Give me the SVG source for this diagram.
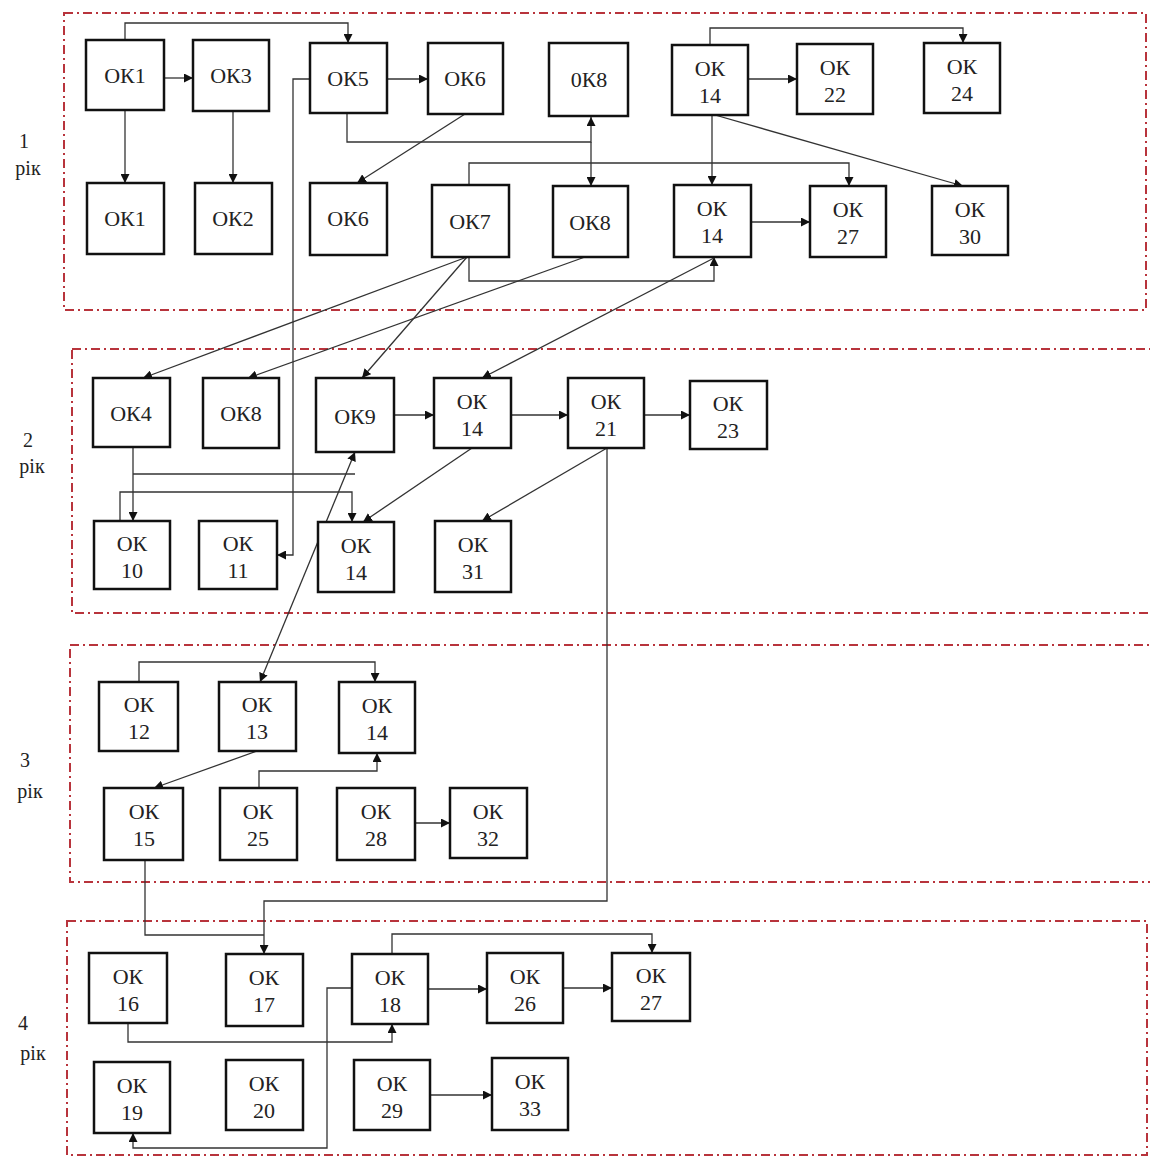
<svg xmlns="http://www.w3.org/2000/svg" width="1150" height="1157" viewBox="0 0 1150 1157">
<style>
.panel{fill:none;stroke:#b8343c;stroke-width:2;stroke-dasharray:9 4 2 4}
.box{fill:#fff;stroke:#111;stroke-width:2.5}
.t{font-family:"Liberation Serif","Times New Roman",serif;font-size:22px;fill:#222;text-anchor:middle}
.lbl{font-family:"Liberation Serif","Times New Roman",serif;font-size:20px;fill:#222;text-anchor:middle}
.c{fill:none;stroke:#333;stroke-width:1.3;marker-end:url(#ah)}
.n{fill:none;stroke:#333;stroke-width:1.3}
.d{marker-start:url(#ah)}
</style>
<defs>
<marker id="ah" viewBox="0 0 10 10" refX="10" refY="5" markerWidth="9" markerHeight="9" markerUnits="userSpaceOnUse" orient="auto-start-reverse"><path d="M0,0 L10,5 L0,10 z" fill="#111"/></marker>
</defs>
<rect width="1150" height="1157" fill="#fff"/>
<g id="panels">
<rect class="panel" x="64" y="13" width="1082" height="297"/>
<rect class="panel" x="72" y="349" width="1090" height="264"/>
<rect class="panel" x="70" y="645" width="1090" height="237"/>
<rect class="panel" x="67" y="921" width="1080" height="234"/>
</g>
<g id="labels">
<text class="lbl" x="24" y="148">1</text><text class="lbl" x="28" y="175">рік</text>
<text class="lbl" x="28" y="447">2</text><text class="lbl" x="32" y="473">рік</text>
<text class="lbl" x="25" y="767">3</text><text class="lbl" x="30" y="798">рік</text>
<text class="lbl" x="23" y="1030">4</text><text class="lbl" x="33" y="1060">рік</text>
</g>
<g id="connectors">
<path class="c" d="M125,40 V23 H348 V43"/>
<path class="c" d="M164,78 H193"/>
<path class="c" d="M125,110 V183"/>
<path class="c" d="M233,111 V183"/>
<path class="c" d="M387,79 H428"/>
<path class="c" d="M310,79 H293 V555 H277"/>
<path class="c" d="M347,113 V142 H591 V117"/>
<path class="c" d="M591,142 V186"/>
<path class="c" d="M465,114 L357,183"/>
<path class="c" d="M469,185 V163 H849 V186"/>
<path class="c" d="M469,257 V281 H714 V257"/>
<path class="c" d="M748,79 H797"/>
<path class="c" d="M710,45 V28 H963 V43"/>
<path class="c" d="M712,115 V185"/>
<path class="c" d="M715,115 L963,186"/>
<path class="c" d="M751,222 H810"/>
<path class="c" d="M467,257 L143,378"/>
<path class="c" d="M467,257 L362,378"/>
<path class="c" d="M585,257 L248,378"/>
<path class="c" d="M714,258 L482,378"/>
<path class="c" d="M394,415 H434"/>
<path class="c" d="M511,415 H568"/>
<path class="c" d="M644,415 H690"/>
<path class="c" d="M607,448 L482,521"/>
<path class="c" d="M607,448 V901 H264 V954"/>
<path class="c" d="M472,448 L363,522"/>
<path class="c" d="M133,447 V521"/>
<path class="n" d="M133,474 H355"/>
<path class="c" d="M120,521 V492 H352 V522"/>
<path class="c d" d="M260,682 L355,452"/>
<path class="c" d="M139,682 V662 H375 V682"/>
<path class="c" d="M257,751 L154,788"/>
<path class="c" d="M259,788 V771 H377 V753"/>
<path class="c" d="M415,823 H450"/>
<path class="n" d="M145,860 V935 H264"/>
<path class="c" d="M392,954 V934 H652 V953"/>
<path class="c" d="M428,989 H487"/>
<path class="c" d="M563,988 H612"/>
<path class="c" d="M128,1023 V1042 H392 V1024"/>
<path class="c" d="M352,988 H327 V1148 H133 V1133"/>
<path class="c" d="M430,1095 H492"/>
</g>
<g id="n-ok1a"><rect class="box" x="86" y="40" width="78" height="70"/><text class="t" x="125" y="83">ОК1</text></g>
<g id="n-ok3"><rect class="box" x="193" y="40" width="76" height="71"/><text class="t" x="231" y="83">ОК3</text></g>
<g id="n-ok5"><rect class="box" x="310" y="43" width="77" height="70"/><text class="t" x="348" y="86">ОК5</text></g>
<g id="n-ok6a"><rect class="box" x="428" y="43" width="75" height="71"/><text class="t" x="465" y="86">ОК6</text></g>
<g id="n-0k8"><rect class="box" x="549" y="43" width="79" height="73"/><text class="t" x="589" y="87">0К8</text></g>
<g id="n-ok14a"><rect class="box" x="672" y="45" width="76" height="70"/><text class="t" x="710" y="76">ОК<tspan x="710" y="103">14</tspan></text></g>
<g id="n-ok22"><rect class="box" x="797" y="44" width="76" height="70"/><text class="t" x="835" y="75">ОК<tspan x="835" y="102">22</tspan></text></g>
<g id="n-ok24"><rect class="box" x="924" y="43" width="76" height="70"/><text class="t" x="962" y="74">ОК<tspan x="962" y="101">24</tspan></text></g>
<g id="n-ok1b"><rect class="box" x="87" y="183" width="77" height="71"/><text class="t" x="125" y="226">ОК1</text></g>
<g id="n-ok2"><rect class="box" x="195" y="183" width="77" height="71"/><text class="t" x="233" y="226">ОК2</text></g>
<g id="n-ok6b"><rect class="box" x="310" y="183" width="77" height="72"/><text class="t" x="348" y="226">ОК6</text></g>
<g id="n-ok7"><rect class="box" x="432" y="185" width="77" height="72"/><text class="t" x="470" y="229">ОК7</text></g>
<g id="n-ok8b"><rect class="box" x="553" y="186" width="75" height="71"/><text class="t" x="590" y="230">ОК8</text></g>
<g id="n-ok14b"><rect class="box" x="674" y="185" width="77" height="72"/><text class="t" x="712" y="216">ОК<tspan x="712" y="243">14</tspan></text></g>
<g id="n-ok27a"><rect class="box" x="810" y="186" width="76" height="71"/><text class="t" x="848" y="217">ОК<tspan x="848" y="244">27</tspan></text></g>
<g id="n-ok30"><rect class="box" x="932" y="186" width="76" height="69"/><text class="t" x="970" y="217">ОК<tspan x="970" y="244">30</tspan></text></g>
<g id="n-ok4"><rect class="box" x="93" y="378" width="77" height="69"/><text class="t" x="131" y="421">ОК4</text></g>
<g id="n-ok8c"><rect class="box" x="203" y="378" width="76" height="70"/><text class="t" x="241" y="421">ОК8</text></g>
<g id="n-ok9"><rect class="box" x="316" y="378" width="78" height="74"/><text class="t" x="355" y="424">ОК9</text></g>
<g id="n-ok14c"><rect class="box" x="434" y="378" width="77" height="70"/><text class="t" x="472" y="409">ОК<tspan x="472" y="436">14</tspan></text></g>
<g id="n-ok21"><rect class="box" x="568" y="378" width="76" height="70"/><text class="t" x="606" y="409">ОК<tspan x="606" y="436">21</tspan></text></g>
<g id="n-ok23"><rect class="box" x="690" y="381" width="77" height="68"/><text class="t" x="728" y="411">ОК<tspan x="728" y="438">23</tspan></text></g>
<g id="n-ok10"><rect class="box" x="94" y="521" width="76" height="68"/><text class="t" x="132" y="551">ОК<tspan x="132" y="578">10</tspan></text></g>
<g id="n-ok11"><rect class="box" x="199" y="521" width="78" height="68"/><text class="t" x="238" y="551">ОК<tspan x="238" y="578">11</tspan></text></g>
<g id="n-ok14d"><rect class="box" x="318" y="522" width="76" height="70"/><text class="t" x="356" y="553">ОК<tspan x="356" y="580">14</tspan></text></g>
<g id="n-ok31"><rect class="box" x="435" y="521" width="76" height="71"/><text class="t" x="473" y="552">ОК<tspan x="473" y="579">31</tspan></text></g>
<g id="n-ok12"><rect class="box" x="99" y="682" width="79" height="69"/><text class="t" x="139" y="712">ОК<tspan x="139" y="739">12</tspan></text></g>
<g id="n-ok13"><rect class="box" x="219" y="682" width="77" height="69"/><text class="t" x="257" y="712">ОК<tspan x="257" y="739">13</tspan></text></g>
<g id="n-ok14e"><rect class="box" x="339" y="682" width="76" height="71"/><text class="t" x="377" y="713">ОК<tspan x="377" y="740">14</tspan></text></g>
<g id="n-ok15"><rect class="box" x="104" y="788" width="79" height="72"/><text class="t" x="144" y="819">ОК<tspan x="144" y="846">15</tspan></text></g>
<g id="n-ok25"><rect class="box" x="220" y="788" width="77" height="72"/><text class="t" x="258" y="819">ОК<tspan x="258" y="846">25</tspan></text></g>
<g id="n-ok28"><rect class="box" x="337" y="788" width="78" height="72"/><text class="t" x="376" y="819">ОК<tspan x="376" y="846">28</tspan></text></g>
<g id="n-ok32"><rect class="box" x="450" y="788" width="77" height="70"/><text class="t" x="488" y="819">ОК<tspan x="488" y="846">32</tspan></text></g>
<g id="n-ok16"><rect class="box" x="89" y="953" width="78" height="70"/><text class="t" x="128" y="984">ОК<tspan x="128" y="1011">16</tspan></text></g>
<g id="n-ok17"><rect class="box" x="226" y="954" width="77" height="72"/><text class="t" x="264" y="985">ОК<tspan x="264" y="1012">17</tspan></text></g>
<g id="n-ok18"><rect class="box" x="352" y="954" width="76" height="70"/><text class="t" x="390" y="985">ОК<tspan x="390" y="1012">18</tspan></text></g>
<g id="n-ok26"><rect class="box" x="487" y="953" width="76" height="70"/><text class="t" x="525" y="984">ОК<tspan x="525" y="1011">26</tspan></text></g>
<g id="n-ok27b"><rect class="box" x="612" y="953" width="78" height="68"/><text class="t" x="651" y="983">ОК<tspan x="651" y="1010">27</tspan></text></g>
<g id="n-ok19"><rect class="box" x="94" y="1062" width="76" height="71"/><text class="t" x="132" y="1093">ОК<tspan x="132" y="1120">19</tspan></text></g>
<g id="n-ok20"><rect class="box" x="226" y="1060" width="77" height="70"/><text class="t" x="264" y="1091">ОК<tspan x="264" y="1118">20</tspan></text></g>
<g id="n-ok29"><rect class="box" x="354" y="1060" width="76" height="70"/><text class="t" x="392" y="1091">ОК<tspan x="392" y="1118">29</tspan></text></g>
<g id="n-ok33"><rect class="box" x="492" y="1058" width="76" height="72"/><text class="t" x="530" y="1089">ОК<tspan x="530" y="1116">33</tspan></text></g>
</svg>
